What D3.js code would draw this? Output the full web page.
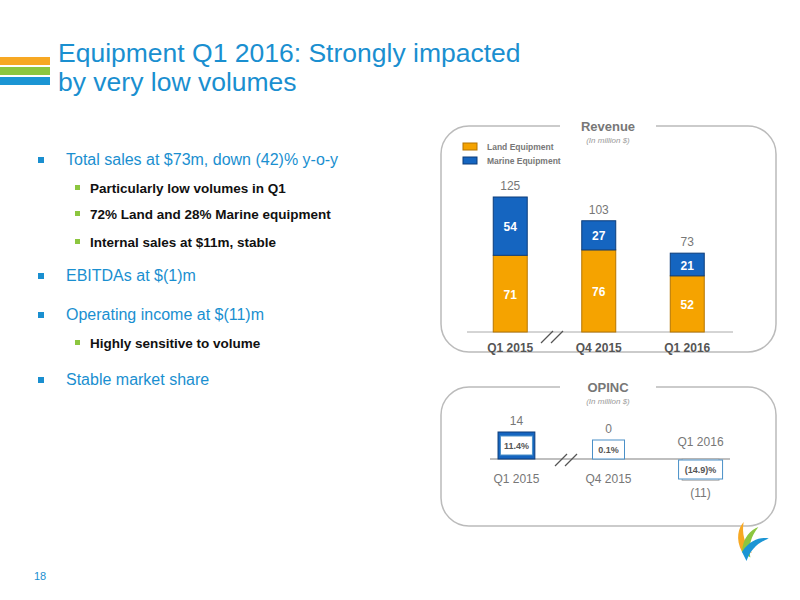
<!DOCTYPE html>
<html><head><meta charset="utf-8">
<script src="https://cdn.jsdelivr.net/npm/d3@7"></script>
<style>body{margin:0;background:#fff}svg{font-family:Arial,"Liberation Sans",sans-serif}</style>
</head><body><svg id="c" width="800" height="600"></svg>
<script>
const quarters = ['Q1 2015', 'Q4 2015', 'Q1 2016'];
const land = [71, 76, 52];
const marine = [54, 27, 21];
const totals = [125, 103, 73];
const opinc = [14, 0, -11];
const opincLabels = ['14', '0', '(11)'];
const margins = ['11.4%', '0.1%', '(14.9)%'];
const bullets = [
  {t: 'Total sales at $73m, down (42)% y-o-y', lvl: 0},
  {t: 'Particularly low volumes in Q1', lvl: 1},
  {t: '72% Land and 28% Marine equipment', lvl: 1},
  {t: 'Internal sales at $11m, stable', lvl: 1},
  {t: 'EBITDAs at $(1)m', lvl: 0},
  {t: 'Operating income at $(11)m', lvl: 0},
  {t: 'Highly sensitive to volume', lvl: 1},
  {t: 'Stable market share', lvl: 0}
];
const bulletY = [165, 193, 219, 247, 281, 320, 348, 385];

const svg = d3.select('#c');
const blue = '#1a8fd0', orange = '#f5a300', mblue = '#1565c0', grey = '#777';

// header stripes + title
[['#f7a823', 57], ['#8cc63f', 67], ['#1b95d4', 77]].forEach(([c, y]) =>
  svg.append('rect').attr('x', 0).attr('y', y).attr('width', 50).attr('height', 8).attr('fill', c));
svg.append('text').attr('x', 58).attr('y', 62).attr('font-size', 26.5).attr('fill', blue).text('Equipment Q1 2016: Strongly impacted');
svg.append('text').attr('x', 58).attr('y', 91).attr('font-size', 26.5).attr('fill', blue).text('by very low volumes');

// bullets
bullets.forEach((b, i) => {
  const x = b.lvl ? 75 : 38;
  svg.append('rect').attr('x', x).attr('y', bulletY[i] - 8).attr('width', b.lvl ? 5 : 6).attr('height', b.lvl ? 5 : 6)
    .attr('fill', b.lvl ? '#8cc63f' : blue);
  svg.append('text').attr('x', b.lvl ? 90 : 66).attr('y', bulletY[i])
    .attr('font-size', b.lvl ? 13.5 : 16).attr('fill', b.lvl ? '#111' : blue)
    .attr('font-weight', b.lvl ? 'bold' : 'normal').text(b.t);
});

// panels
function panel(y, h, title) {
  svg.append('rect').attr('x', 441).attr('y', y).attr('width', 335).attr('height', h).attr('rx', 28)
    .attr('fill', 'none').attr('stroke', '#bbb').attr('stroke-width', 1.5);
  svg.append('rect').attr('x', 560).attr('y', y - 3).attr('width', 96).attr('height', 6).attr('fill', '#fff');
  svg.append('text').attr('x', 608).attr('y', y + 5).attr('text-anchor', 'middle').attr('font-size', 13)
    .attr('font-weight', 'bold').attr('fill', grey).text(title);
  svg.append('text').attr('x', 608).attr('y', y + 17).attr('text-anchor', 'middle').attr('font-size', 8)
    .attr('font-style', 'italic').attr('fill', '#999').text('(In million $)');
}
panel(126, 226, 'Revenue');
panel(387, 139, 'OPINC');

function slash(cx, cy) {
  [-5, 5].forEach(d => svg.append('line').attr('x1', cx + d - 6).attr('y1', cy + 6).attr('x2', cx + d + 6).attr('y2', cy - 6)
    .attr('stroke', '#555').attr('stroke-width', 1.2));
}

// Revenue chart
const x = d3.scaleBand().domain(quarters).range([449, 748.5]).paddingInner(0.616).paddingOuter(0.5);
const base = 332;
const y = d3.scaleLinear().domain([0, 125]).range([base, 197]);
svg.append('line').attr('x1', 467).attr('x2', 733).attr('y1', base).attr('y2', base).attr('stroke', '#aaa');
quarters.forEach((q, i) => {
  const bx = x(q), w = x.bandwidth();
  svg.append('rect').attr('x', bx).attr('y', y(land[i])).attr('width', w).attr('height', base - y(land[i]))
    .attr('fill', orange).attr('stroke', '#b57500');
  svg.append('rect').attr('x', bx).attr('y', y(land[i] + marine[i])).attr('width', w).attr('height', y(land[i]) - y(land[i] + marine[i]))
    .attr('fill', mblue).attr('stroke', '#0d3d7a');
  svg.append('text').attr('x', bx + w / 2).attr('y', (y(land[i]) + base) / 2 + 5).attr('text-anchor', 'middle')
    .attr('font-size', 12).attr('font-weight', 'bold').attr('fill', '#fff').text(land[i]);
  svg.append('text').attr('x', bx + w / 2).attr('y', (y(land[i]) + y(totals[i])) / 2 + 5).attr('text-anchor', 'middle')
    .attr('font-size', 12).attr('font-weight', 'bold').attr('fill', '#fff').text(marine[i]);
  svg.append('text').attr('x', bx + w / 2).attr('y', y(totals[i]) - 7).attr('text-anchor', 'middle')
    .attr('font-size', 12).attr('fill', grey).text(totals[i]);
  svg.append('text').attr('x', bx + w / 2).attr('y', base + 20).attr('text-anchor', 'middle')
    .attr('font-size', 12).attr('font-weight', 'bold').attr('fill', '#555').text(q);
});
slash(552, 337);
// legend
[['Land Equipment', orange, '#b57500', 150], ['Marine Equipment', mblue, '#0d3d7a', 164]].forEach(([t, f, s, ly]) => {
  svg.append('rect').attr('x', 463).attr('y', ly - 7).attr('width', 14).attr('height', 7).attr('fill', f).attr('stroke', s);
  svg.append('text').attr('x', 487).attr('y', ly).attr('font-size', 8.5).attr('font-weight', 'bold').attr('fill', grey).text(t);
});

// OPINC chart
const x2 = d3.scaleBand().domain(quarters).range([452, 765]).paddingInner(0.6).paddingOuter(0.5);
const b2 = 459;
const y2 = d3.scaleLinear().domain([0, 14]).range([b2, 432]);
svg.append('line').attr('x1', 490).attr('x2', 730).attr('y1', b2).attr('y2', b2).attr('stroke', '#aaa').attr('stroke-width', 1.5);
quarters.forEach((q, i) => {
  const bx = x2(q), w = x2.bandwidth(), v = opinc[i];
  const top = Math.min(y2(v), b2), h = Math.abs(y2(v) - b2);
  if (h > 0) svg.append('rect').attr('x', bx).attr('y', top).attr('width', w).attr('height', h)
    .attr('fill', v > 0 ? mblue : '#fff').attr('stroke', v > 0 ? '#0d3d7a' : '#aaa');
  // margin box
  const bw = i === 2 ? 44 : 32, bh = 19;
  const boxY = v > 0 ? top + 4 : (v < 0 ? b2 + 1 : b2 - bh);
  svg.append('rect').attr('x', bx + w / 2 - bw / 2).attr('y', boxY).attr('width', bw).attr('height', bh)
    .attr('fill', '#fff').attr('stroke', '#4a90c8');
  svg.append('text').attr('x', bx + w / 2).attr('y', boxY + 13).attr('text-anchor', 'middle')
    .attr('font-size', 9).attr('font-weight', 'bold').attr('fill', '#555').text(margins[i]);
  svg.append('text').attr('x', bx + w / 2).attr('y', v < 0 ? b2 + 38 : (v > 0 ? top : b2 - bh) - 7)
    .attr('text-anchor', 'middle').attr('font-size', 12).attr('fill', grey).text(opincLabels[i]);
  svg.append('text').attr('x', bx + w / 2).attr('y', v < 0 ? b2 - 13 : b2 + 24).attr('text-anchor', 'middle')
    .attr('font-size', 12).attr('fill', grey).text(q);
});
slash(566, 460);

// footer
svg.append('text').attr('x', 34).attr('y', 580).attr('font-size', 11).attr('fill', blue).text('18');
[['#f7a823', -50], ['#8cc63f', -20], ['#1b95d4', 10]].forEach(([c, r]) =>
  svg.append('path').attr('d', 'M0,0 C6,-14 16,-18 24,-18 C14,-12 8,-4 6,8 Z').attr('fill', c)
    .attr('transform', `translate(742,552) rotate(${r})`));
</script></body></html>
